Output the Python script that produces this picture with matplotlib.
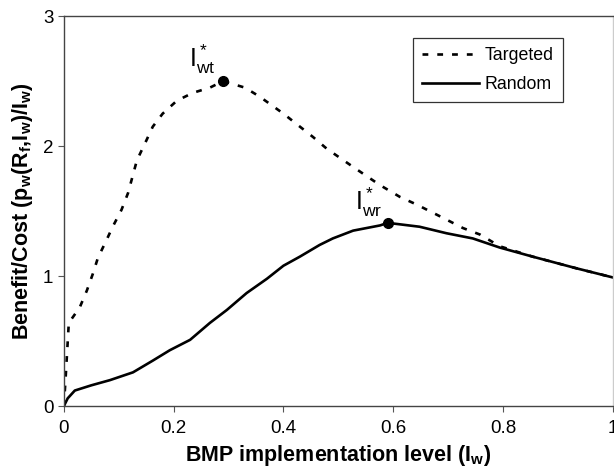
import numpy as np
import matplotlib
matplotlib.use("Agg")
import matplotlib.pyplot as plt

plt.rcParams['font.family'] = ['Liberation Sans', 'DejaVu Sans']
plt.rcParams['mathtext.fontset'] = 'custom'
plt.rcParams['mathtext.rm'] = 'Liberation Sans'
plt.rcParams['mathtext.it'] = 'Liberation Sans:italic'
plt.rcParams['mathtext.bf'] = 'Liberation Sans:bold'

# targeted BMP placement (dashed)
targeted_x = [0.0, 0.003, 0.009, 0.029, 0.042, 0.053, 0.062, 0.078, 0.089, 0.105, 0.117,
              0.133, 0.151, 0.162, 0.18, 0.206, 0.235, 0.266, 0.29, 0.33, 0.357, 0.40,
              0.43, 0.454, 0.479, 0.527, 0.576, 0.612, 0.643, 0.69, 0.727, 0.758, 0.794,
              0.854, 0.934, 1.0]
targeted_y = [0.0, 0.2, 0.64, 0.76, 0.89, 1.02, 1.14, 1.28, 1.38, 1.51, 1.64,
              1.89, 2.05, 2.15, 2.25, 2.35, 2.41, 2.45, 2.5, 2.45, 2.38, 2.25,
              2.15, 2.07, 1.98, 1.84, 1.70, 1.61, 1.55, 1.45, 1.37, 1.32, 1.23,
              1.15, 1.06, 0.99]

# random BMP placement (solid)
random_x = [0.0, 0.007, 0.02, 0.05, 0.084, 0.126, 0.162, 0.193, 0.23, 0.266, 0.297, 0.333,
            0.37, 0.40, 0.43, 0.466, 0.49, 0.527, 0.576, 0.59, 0.648, 0.697, 0.745,
            0.794, 0.854, 0.934, 1.0]
random_y = [0.0, 0.06, 0.12, 0.16, 0.20, 0.26, 0.35, 0.43, 0.51, 0.64, 0.74, 0.87,
            0.98, 1.08, 1.15, 1.24, 1.29, 1.35, 1.39, 1.41, 1.38, 1.33, 1.29,
            1.22, 1.15, 1.06, 0.99]

peak_t = (0.29, 2.5)
peak_r = (0.59, 1.41)

fig = plt.figure(figsize=(6.14, 4.75), dpi=100)
ax = fig.add_axes([0.104, 0.145, 0.894, 0.821])

ax.plot(targeted_x, targeted_y, color='black', lw=1.9, dashes=(2.2, 3.4), label='Targeted')
ax.plot(random_x, random_y, color='black', lw=1.9, label='Random')
ax.plot(*peak_t, 'o', color='black', ms=7)
ax.plot(*peak_r, 'o', color='black', ms=7)

ax.text(0.277, 2.54, r'$\mathregular{I^*_{wt}}$', fontsize=18, ha='right', va='bottom')
ax.text(0.58, 1.44, r'$\mathregular{I^*_{wr}}$', fontsize=18, ha='right', va='bottom')

ax.set_xlim(0, 1)
ax.set_ylim(0, 3)
ax.set_xticks([0, 0.2, 0.4, 0.6, 0.8, 1])
ax.set_xticklabels(['0', '0.2', '0.4', '0.6', '0.8', '1'])
ax.set_yticks([0, 1, 2, 3])
ax.tick_params(labelsize=13.5, direction='out', length=4, color='#555555')
ax.tick_params(axis='x', pad=6)
for s in ax.spines.values():
    s.set_color('#444444')
    s.set_linewidth(1.0)
ax.spines['right'].set_color('#cccccc')

ax.set_xlabel(r'BMP implementation level (I$_\mathbf{w}$)', fontsize=15.5, fontweight='bold', labelpad=4)
ax.set_ylabel(r'Benefit/Cost (p$_\mathbf{w}$(R$_\mathbf{f}$,I$_\mathbf{w}$)/I$_\mathbf{w}$)',
              fontsize=15.5, fontweight='bold', labelpad=6)

leg = ax.legend(loc='upper right', bbox_to_anchor=(0.909, 0.944), borderaxespad=0, fontsize=12.8,
                frameon=True, fancybox=False, edgecolor='black', handlelength=3.2,
                handletextpad=0.35, borderpad=0.5, labelspacing=0.7)
leg.get_frame().set_linewidth(0.9)

fig.savefig('out.png', dpi=100)
